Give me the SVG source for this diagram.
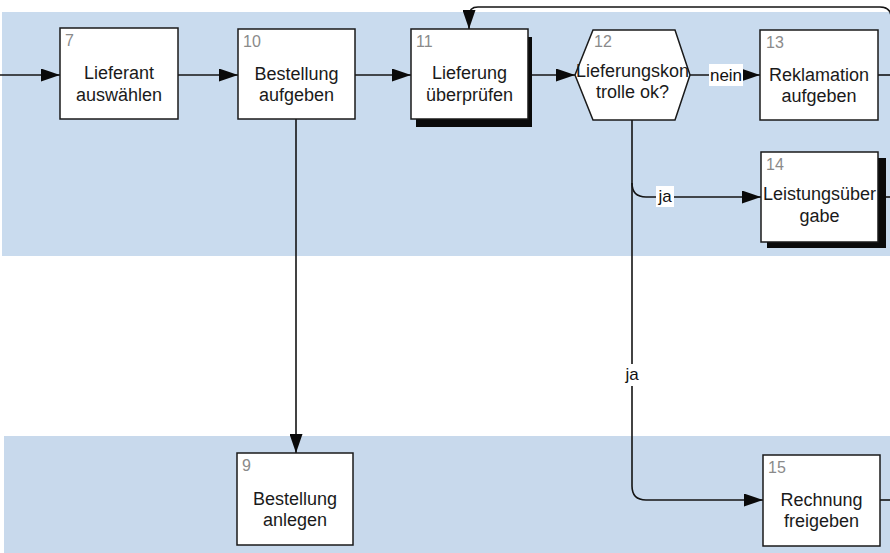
<svg xmlns="http://www.w3.org/2000/svg" width="890" height="553" viewBox="0 0 890 553">
<style>
.box{fill:#fff;stroke:#1a1a1a;stroke-width:1.5}
.shadow{fill:#0a0a0a}
.num{font-family:"Liberation Sans",Arial,sans-serif;font-size:16px;fill:#8a8a8a}
.lbl{font-family:"Liberation Sans",Arial,sans-serif;font-size:18px;fill:#1a1a1a;text-anchor:middle}
.edge{fill:none;stroke:#141414;stroke-width:1.6}
.elbl{font-family:"Liberation Sans",Arial,sans-serif;font-size:17px;fill:#111;text-anchor:middle}
</style>
<defs>
<marker id="ah" viewBox="0 0 19 13" markerUnits="userSpaceOnUse" markerWidth="19" markerHeight="13" refX="19" refY="6.5" orient="auto">
<path d="M0,0 L19,6.5 L0,13 z" fill="#0a0a0a"/>
</marker>
</defs>
<rect width="890" height="553" fill="#ffffff"/>
<g id="lanes">
<rect x="2" y="12" width="888" height="244" fill="#c9dbee"/>
<rect x="4" y="436" width="886" height="117" fill="#c8d9ec"/>
</g>
<g id="connectors">
<path class="edge" d="M0,75 H60" marker-end="url(#ah)"/>
<path class="edge" d="M178,75 H238" marker-end="url(#ah)"/>
<path class="edge" d="M355,75 H411" marker-end="url(#ah)"/>
<path class="edge" d="M532,75 H575" marker-end="url(#ah)"/>
<path class="edge" d="M690,75 H760" marker-end="url(#ah)"/>
<path class="edge" d="M878,75 H890"/>
<path class="edge" d="M891,22 V16 Q890,7 880,7 H478 Q469,7 469,16 V29" marker-end="url(#ah)"/>
<path class="edge" d="M296,119 V453" marker-end="url(#ah)"/>
<path class="edge" d="M632,120 V486 Q632,500 646,500 H763" marker-end="url(#ah)"/>
<path class="edge" d="M632,183 Q632,197 646,197 H761" marker-end="url(#ah)"/>
<path class="edge" d="M886,197 H890"/>
<path class="edge" d="M880,500 H890"/>
<rect x="709" y="64" width="34" height="22" fill="#fff"/>
<text class="elbl" x="726" y="81">nein</text>
<rect x="656" y="186" width="18" height="21" fill="#fff"/>
<text class="elbl" x="665" y="202">ja</text>
<rect x="622" y="364" width="20" height="22" fill="#fff"/>
<text class="elbl" x="632" y="380">ja</text>
</g>
<g id="n7">
<rect class="box" x="60" y="28" width="118" height="91"/>
<text class="num" x="65" y="46">7</text>
<text class="lbl" x="119" y="79">Lieferant</text>
<text class="lbl" x="119" y="101">auswählen</text>
</g>
<g id="n10">
<rect class="box" x="238" y="29" width="117" height="90"/>
<text class="num" x="243" y="47">10</text>
<text class="lbl" x="296.5" y="80">Bestellung</text>
<text class="lbl" x="296.5" y="101">aufgeben</text>
</g>
<g id="n11">
<rect class="shadow" x="416" y="37" width="116" height="90"/>
<rect class="box" x="411" y="29" width="117" height="90"/>
<text class="num" x="416" y="47">11</text>
<text class="lbl" x="469.5" y="79">Lieferung</text>
<text class="lbl" x="469.5" y="101">überprüfen</text>
</g>
<g id="n12">
<polygon class="box" points="575,75 593,30 675,30 690,75 675,120 593,120"/>
<text class="num" x="594" y="47">12</text>
<text class="lbl" x="632.5" y="77">Lieferungskon</text>
<text class="lbl" x="632.5" y="98">trolle ok?</text>
</g>
<g id="n13">
<rect class="box" x="760" y="30" width="118" height="90"/>
<text class="num" x="766" y="48">13</text>
<text class="lbl" x="819" y="81">Reklamation</text>
<text class="lbl" x="819" y="102">aufgeben</text>
</g>
<g id="n14">
<rect class="shadow" x="767" y="158" width="119" height="90"/>
<rect class="box" x="761" y="152" width="117" height="90"/>
<text class="num" x="766" y="170">14</text>
<text class="lbl" x="819.5" y="200">Leistungsüber</text>
<text class="lbl" x="819.5" y="222">gabe</text>
</g>
<g id="n9">
<rect class="box" x="237" y="453" width="116" height="92"/>
<text class="num" x="242" y="471">9</text>
<text class="lbl" x="295" y="505">Bestellung</text>
<text class="lbl" x="295" y="526">anlegen</text>
</g>
<g id="n15">
<rect class="box" x="763" y="455" width="117" height="91"/>
<text class="num" x="768" y="473">15</text>
<text class="lbl" x="821.5" y="506">Rechnung</text>
<text class="lbl" x="821.5" y="527">freigeben</text>
</g>
</svg>
